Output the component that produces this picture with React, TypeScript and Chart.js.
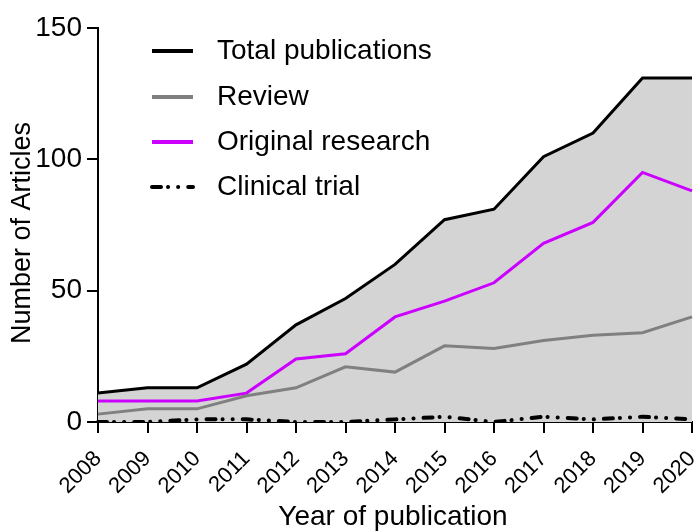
import React, { useEffect, useRef } from "react";
import { Chart, registerables } from "chart.js";

Chart.register(...registerables);

const years = ["2008", "2009", "2010", "2011", "2012", "2013", "2014", "2015", "2016", "2017", "2018", "2019", "2020"];
const totalPublications = [11, 13, 13, 22, 37, 47, 60, 77, 81, 101, 110, 131, 131];
const review = [3, 5, 5, 10, 13, 21, 19, 29, 28, 31, 33, 34, 40];
const originalResearch = [8, 8, 8, 11, 24, 26, 40, 46, 53, 68, 76, 95, 88];
const clinicalTrial = [0, 0, 1, 1, 0, 0, 1, 2, 0, 2, 1, 2, 1];
const yTicks = [0, 50, 100, 150];
const xTitle = "Year of publication";
const yTitle = "Number of Articles";

const FONT = "'Liberation Sans', Arial, Helvetica, sans-serif";
const MAGENTA = "#cc00ff";
const GRAY = "#808080";
const FILL = "#d4d4d4";
const TRIAL_DASH = [9, 7, 0.1, 10, 0.1, 10];

const legendItems = [
  { label: "Total publications", color: "#000000", dash: [] as number[] },
  { label: "Review", color: GRAY, dash: [] as number[] },
  { label: "Original research", color: MAGENTA, dash: [] as number[] },
  { label: "Clinical trial", color: "#000000", dash: TRIAL_DASH },
];

const legendPlugin = {
  id: "customLegend",
  afterDraw(chart: any) {
    const ctx = chart.ctx;
    const area = chart.chartArea;
    ctx.save();
    const x0 = 152;
    const x1 = 193;
    const tx = 217;
    const ys = [51, 97, 142, 187];
    legendItems.forEach((it, i) => {
      const y = ys[i];
      ctx.beginPath();
      ctx.strokeStyle = it.color;
      ctx.lineWidth = 4;
      ctx.lineCap = it.dash.length ? "round" : "butt";
      ctx.setLineDash(it.dash);
      ctx.moveTo(x0, y);
      ctx.lineTo(x1, y);
      ctx.stroke();
      ctx.setLineDash([]);
      ctx.fillStyle = "#000000";
      ctx.font = `28px ${FONT}`;
      ctx.textAlign = "left";
      ctx.textBaseline = "middle";
      ctx.fillText(it.label, tx, y);
    });

    // axis titles
    ctx.fillStyle = "#000000";
    ctx.textAlign = "center";
    ctx.textBaseline = "middle";
    ctx.font = `28px ${FONT}`;
    ctx.fillText(xTitle, (area.left + area.right) / 2 - 2, 517);

    ctx.save();
    ctx.translate(23, (area.top + area.bottom) / 2 + 8);
    ctx.rotate(-Math.PI / 2);
    ctx.font = `27px ${FONT}`;
    ctx.fillText(yTitle, 0, 0);
    ctx.restore();

    ctx.restore();
  },
};

export default function App() {
  const ref = useRef<HTMLCanvasElement | null>(null);

  useEffect(() => {
    if (!ref.current) return;
    const chart = new Chart(ref.current, {
      type: "line",
      data: {
        labels: years,
        datasets: [
          {
            label: "Total publications",
            data: totalPublications,
            borderColor: "#000000",
            backgroundColor: FILL,
            borderWidth: 3,
            fill: "origin",
            pointRadius: 0,
            tension: 0,
          },
          {
            label: "Review",
            data: review,
            borderColor: GRAY,
            borderWidth: 3,
            fill: false,
            pointRadius: 0,
            tension: 0,
          },
          {
            label: "Original research",
            data: originalResearch,
            borderColor: MAGENTA,
            borderWidth: 3,
            fill: false,
            pointRadius: 0,
            tension: 0,
          },
          {
            label: "Clinical trial",
            data: clinicalTrial,
            borderColor: "#000000",
            borderWidth: 4,
            borderDash: TRIAL_DASH,
            borderCapStyle: "round",
            fill: false,
            pointRadius: 0,
            tension: 0,
          },
        ],
      },
      options: {
        responsive: false,
        animation: false,
        layout: { padding: { top: 28, right: 3, left: 0, bottom: 0 } },
        plugins: {
          legend: { display: false },
          tooltip: { enabled: false },
          filler: { drawTime: "beforeDatasetsDraw" },
        },
        scales: {
          x: {
            type: "category",
            offset: false,
            grid: {
              drawOnChartArea: false,
              drawTicks: true,
              tickLength: 11,
              color: "#000000",
              lineWidth: 2,
            },
            border: { color: "#000000", width: 2 },
            ticks: {
              autoSkip: false,
              minRotation: 45,
              maxRotation: 45,
              color: "#000000",
              padding: 13,
              font: { family: FONT, size: 22 },
            },
            title: { display: false },
            afterFit: (s: any) => {
              s.height = 109;
              s.paddingLeft = 0;
              s.paddingRight = 0;
            },
          },
          y: {
            min: 0,
            max: 150,
            afterBuildTicks: (s: any) => {
              s.ticks = yTicks.map((v) => ({ value: v }));
            },
            grid: {
              drawOnChartArea: false,
              drawTicks: true,
              tickLength: 11,
              color: "#000000",
              lineWidth: 2,
            },
            border: { color: "#000000", width: 2 },
            ticks: {
              color: "#000000",
              padding: 5,
              font: { family: FONT, size: 28 },
            },
            title: { display: false },
            afterFit: (s: any) => {
              s.width = 98;
              s.paddingTop = 0;
              s.paddingBottom = 0;
            },
          },
        },
      },
      plugins: [legendPlugin],
    });
    return () => chart.destroy();
  }, []);

  return (
    <div style={{ position: "absolute", left: 0, top: 0, width: 695, height: 531, background: "#ffffff" }}>
      <canvas ref={ref} width={695} height={531} style={{ width: 695, height: 531, display: "block" }} />
    </div>
  );
}
